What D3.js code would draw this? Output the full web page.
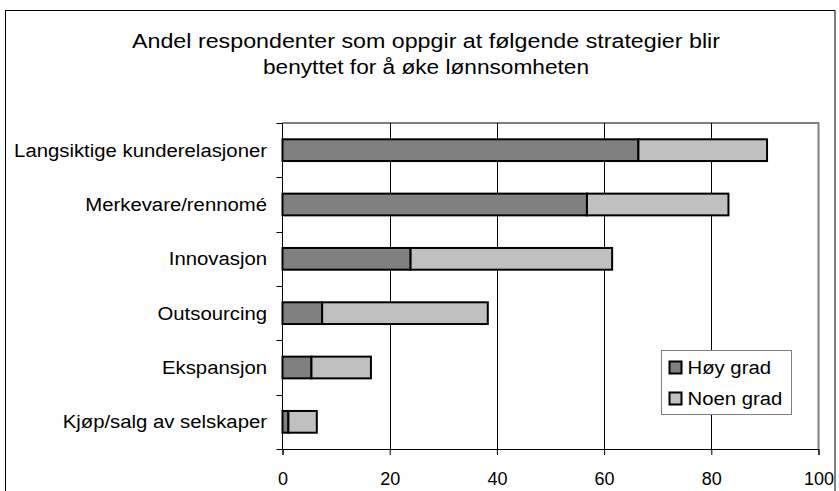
<!DOCTYPE html>
<html>
<head>
<meta charset="utf-8">
<script src="https://cdn.jsdelivr.net/npm/d3@7/dist/d3.min.js"></script>
<style>
  html, body { margin: 0; padding: 0; background: #fff; }
  svg { display: block; font-family: "Liberation Sans", Arial, sans-serif; }
</style>
</head>
<body>
<svg id="chart" width="839" height="491"></svg>
<script>
// Strategies, top to bottom
const categories = [
  "Langsiktige kunderelasjoner",
  "Merkevare/rennomé",
  "Innovasjon",
  "Outsourcing",
  "Ekspansjon",
  "Kjøp/salg av selskaper"
];
// Share of respondents (%)
const hoyGrad  = [66.4, 56.8, 23.9, 7.4, 5.4, 1.1];
const noenGrad = [24.0, 26.4, 37.6, 30.9, 11.1, 5.3];
const seriesNames = ["Høy grad", "Noen grad"];
const seriesColors = ["#808080", "#c0c0c0"];
const xTicks = [0, 20, 40, 60, 80, 100];
const titleLines = [
  "Andel respondenter som oppgir at følgende strategier blir",
  "benyttet for å øke lønnsomheten"
];

const svg = d3.select("#chart");
const plot = { left: 282.5, right: 818.5, top: 123, bottom: 449 };
const stretch = 1.07; // text is drawn slightly wide

// Outer chart frame (runs past the lower edge)
svg.append("rect")
  .attr("x", 5.5).attr("y", 10.5)
  .attr("width", 829.5).attr("height", 520)
  .attr("fill", "#fff").attr("stroke", "#000").attr("stroke-width", 1);

// Title
const titleWidths = [588, 326];
svg.append("g")
  .selectAll("text")
  .data(titleLines)
  .join("text")
  .attr("text-anchor", "middle")
  .attr("font-size", 20)
  .attr("fill", "#000")
  .attr("x", 426)
  .attr("y", (d, i) => 48 + i * 26)
  .attr("textLength", (d, i) => titleWidths[i])
  .attr("lengthAdjust", "spacingAndGlyphs")
  .text(d => d);

const x = d3.scaleLinear().domain([0, 100]).range([plot.left, plot.right]);
const y = d3.scaleBand().domain(categories)
  .range([plot.top, plot.bottom])
  .paddingInner(0.6).paddingOuter(0.3);

// Plot area border (grey, top and right)
svg.append("path")
  .attr("d", `M${plot.left},${plot.top}H${plot.right}V${plot.bottom}`)
  .attr("fill", "none").attr("stroke", "#808080").attr("stroke-width", 2);

// Vertical gridlines
svg.append("g")
  .selectAll("line")
  .data(xTicks.filter(t => t > 0 && t < 100))
  .join("line")
  .attr("x1", d => Math.round(x(d)) + 0.5).attr("x2", d => Math.round(x(d)) + 0.5)
  .attr("y1", plot.top).attr("y2", plot.bottom)
  .attr("stroke", "#000").attr("stroke-width", 1);

// Stacked bars
const stackData = categories.map((c, i) => ({ cat: c, "Høy grad": hoyGrad[i], "Noen grad": noenGrad[i] }));
const stacked = d3.stack().keys(seriesNames)(stackData);

svg.append("g")
  .selectAll("g")
  .data(stacked)
  .join("g")
  .attr("fill", (d, i) => seriesColors[i])
  .selectAll("rect")
  .data(d => d)
  .join("rect")
  .attr("x", d => x(d[0]))
  .attr("y", d => y(d.data.cat))
  .attr("width", d => x(d[1]) - x(d[0]))
  .attr("height", y.bandwidth())
  .attr("stroke", "#000")
  .attr("stroke-width", 2);

// Bottom axis
const xAxis = d3.axisBottom(x).tickValues(xTicks).tickSize(6).tickPadding(17);
const gx = svg.append("g")
  .attr("transform", `translate(0,${plot.bottom})`)
  .call(xAxis);
gx.select(".domain").attr("stroke", "#000");
gx.selectAll(".tick line").attr("stroke", "#000");
gx.selectAll(".tick text")
  .attr("font-size", 18)
  .attr("font-family", "Liberation Sans, Arial, sans-serif")
  .attr("fill", "#000");

// Left axis: ticks on category boundaries
const leftAxis = svg.append("g");
leftAxis.append("line")
  .attr("x1", plot.left).attr("x2", plot.left)
  .attr("y1", plot.top).attr("y2", plot.bottom)
  .attr("stroke", "#000");
const step = y.step();
const boundaries = d3.range(categories.length + 1).map(i => plot.top + i * step);
leftAxis.selectAll("line.tk")
  .data(boundaries)
  .join("line")
  .attr("class", "tk")
  .attr("x1", plot.left - 6).attr("x2", plot.left)
  .attr("y1", d => Math.round(d) + 0.5).attr("y2", d => Math.round(d) + 0.5)
  .attr("stroke", "#000");

// Category labels
svg.append("g")
  .selectAll("text")
  .data(categories)
  .join("text")
  .attr("transform", d => `translate(267,${y(d) + y.bandwidth() / 2}) scale(${stretch},1)`)
  .attr("dy", "0.35em")
  .attr("text-anchor", "end")
  .attr("font-size", 19)
  .attr("fill", "#000")
  .text(d => d);

// Legend
const legend = svg.append("g").attr("transform", "translate(661.5,350.5)");
legend.append("rect")
  .attr("width", 130).attr("height", 64)
  .attr("fill", "#fff").attr("stroke", "#808080").attr("stroke-width", 1);
const items = legend.selectAll("g.item")
  .data(seriesNames)
  .join("g")
  .attr("class", "item")
  .attr("transform", (d, i) => `translate(8,${17 + i * 31})`);
items.append("rect")
  .attr("x", 0).attr("y", -6)
  .attr("width", 12).attr("height", 12)
  .attr("fill", (d, i) => seriesColors[i])
  .attr("stroke", "#000").attr("stroke-width", 2);
items.append("text")
  .attr("transform", `translate(18,0) scale(${stretch},1)`)
  .attr("dy", "0.35em")
  .attr("font-size", 19)
  .attr("fill", "#000")
  .text(d => d);
</script>
</body>
</html>
